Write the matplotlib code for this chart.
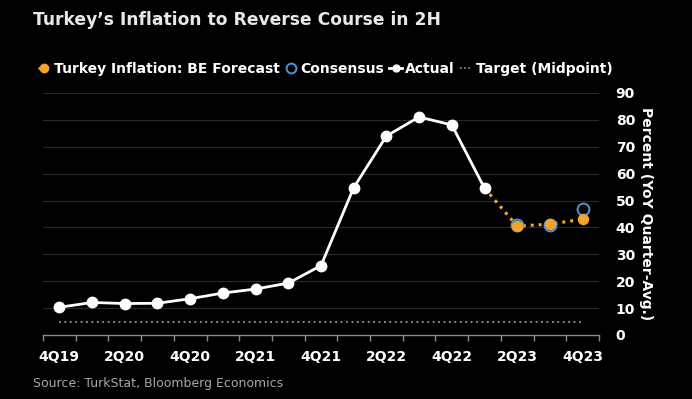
import numpy as np
import matplotlib.pyplot as plt
from matplotlib.lines import Line2D

# quarters 4Q19 .. 4Q23
quarters = ["4Q19", "1Q20", "2Q20", "3Q20", "4Q20", "1Q21", "2Q21", "3Q21", "4Q21",
            "1Q22", "2Q22", "3Q22", "4Q22", "1Q23", "2Q23", "3Q23", "4Q23"]
actual = [10.3, 12.1, 11.7, 11.8, 13.5, 15.6, 17.1, 19.3, 25.8,
          54.8, 74.0, 81.1, 78.1, 54.6]
forecast_q = ["1Q23", "2Q23", "3Q23", "4Q23"]
forecast = [54.6, 40.5, 41.2, 43.1]
consensus_q = ["2Q23", "3Q23", "4Q23"]
consensus = [41.0, 41.0, 46.7]
target = 5.0

orange = "#f5a42a"
blue = "#4f96d8"
bg = "black"

fig = plt.figure(figsize=(6.92, 3.99), dpi=100, facecolor=bg)
ax = fig.add_axes([43 / 692, 1 - 335 / 399, (599 - 43) / 692, (335 - 93) / 399])
ax.set_facecolor(bg)

xi = np.arange(len(quarters))
idx = {q: i for i, q in enumerate(quarters)}

# target line
ax.plot([xi[0], xi[-1]], [target, target], color="#9a9a9a", lw=1.3,
        linestyle=(0, (1, 2)), zorder=2)

# actual
ax.plot(xi[:len(actual)], actual, color="white", lw=2, marker="o", ms=7.5,
        zorder=4, clip_on=False)

# consensus rings
cx = [idx[q] for q in consensus_q]
ax.plot(cx, consensus, linestyle="none", marker="o", ms=8.5, mfc=bg,
        mec=blue, mew=1.4, zorder=5, clip_on=False)

# BE forecast
fx = [idx[q] for q in forecast_q]
ax.plot(fx, forecast, color=orange, lw=2.2, linestyle=(0, (1, 1.6)), zorder=3)
ax.plot(fx[1:], forecast[1:], linestyle="none", marker="o", ms=7.2, color=orange,
        zorder=6, clip_on=False)

ax.set_xlim(-0.5, len(quarters) - 0.5)
ax.set_ylim(0, 90)

# y axis on the right
ax.yaxis.tick_right()
ax.set_yticks(range(0, 91, 10))
ax.tick_params(axis="y", length=0, pad=12, labelsize=10, labelcolor="white")
for lab in ax.get_yticklabels():
    lab.set_fontweight("bold")
ax.grid(axis="y", color="#2a2a2a", lw=0.8)
ax.set_axisbelow(True)

ax.yaxis.set_label_position("right")
ax.set_ylabel("Percent (YoY Quarter-Avg.)", rotation=270, color="white",
              fontsize=10, fontweight="bold", labelpad=13)

# x ticks: labels every 2 quarters, marks between quarters
ax.set_xticks(xi[::2])
ax.set_xticklabels(quarters[::2], fontsize=10, fontweight="bold", color="white")
ax.set_xticks(np.arange(-0.5, len(quarters), 1), minor=True)
ax.tick_params(axis="x", which="major", length=0, pad=10.5)
ax.tick_params(axis="x", which="minor", length=4, color="#8a8a8a", width=1)

for s in ["top", "left", "right"]:
    ax.spines[s].set_visible(False)
ax.spines["bottom"].set_color("#8a8a8a")
ax.spines["bottom"].set_linewidth(1)

# title and source
fig.text(33 / 692, 1 - 20 / 399, "Turkey\u2019s Inflation to Reverse Course in 2H",
         color="#e8e8e8", fontsize=12.3, fontweight="bold", va="center", ha="left")
fig.text(33 / 692, 1 - 383 / 399, "Source: TurkStat, Bloomberg Economics",
         color="#a8a8a8", fontsize=9, va="center", ha="left")

# legend
handles = [
    Line2D([], [], color=orange, lw=2, linestyle=(0, (1, 1.5)), marker="o", ms=6),
    Line2D([], [], linestyle="none", marker="o", ms=7, mfc=bg, mec=blue, mew=1.4),
    Line2D([], [], color="white", lw=2, marker="o", ms=5),
    Line2D([], [], color="#9a9a9a", lw=1.2, linestyle=(0, (1, 1.5))),
]
labels = ["Turkey Inflation: BE Forecast", "Consensus", "Actual", "Target (Midpoint)"]
leg = fig.legend(handles, labels, loc="center left", bbox_to_anchor=(38 / 692, 1 - 69 / 399),
                 ncol=4, frameon=False, handlelength=0.9, handletextpad=0.25,
                 columnspacing=0.35, borderaxespad=0, borderpad=0,
                 prop={"weight": "bold", "size": 10})
for t in leg.get_texts():
    t.set_color("white")

fig.savefig("out.png", dpi=100, facecolor=bg)
